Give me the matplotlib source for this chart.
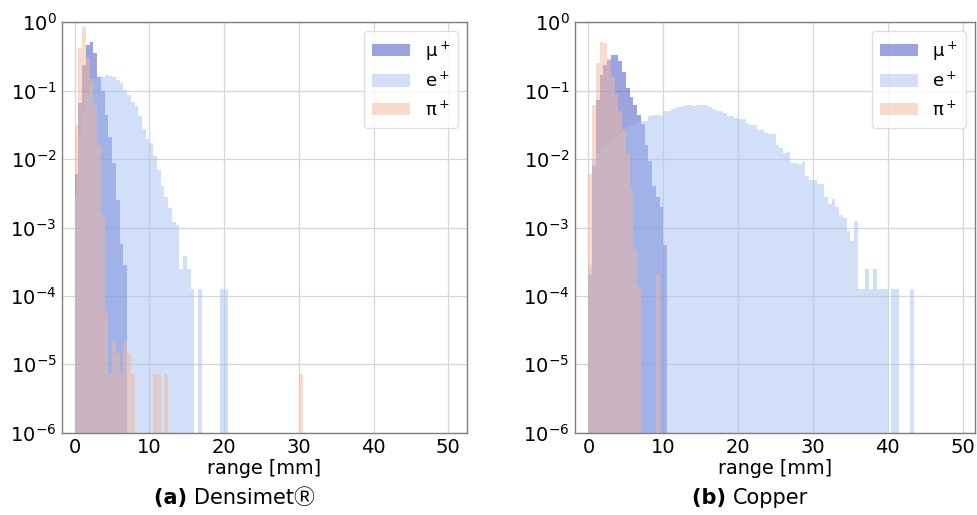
import numpy as np
import matplotlib
matplotlib.use("Agg")
import matplotlib.pyplot as plt

# ---------------- data (normalised counts per 0.5 mm bin, starting at 0 mm) ----------------
bin_edges = np.linspace(0, 50, 101)

# Densimet
mu_densimet = [0.006, 0.066, 0.24, 0.47, 0.52, 0.35, 0.16, 0.10, 0.044, 0.021,
               0.0087, 0.0025, 5.8e-4, 2.8e-4]
e_densimet = [0.003, 0.02, 0.05, 0.09, 0.13, 0.15, 0.155, 0.161, 0.170, 0.165,
              0.161, 0.144, 0.129, 0.103, 0.087, 0.069, 0.059, 0.042, 0.028, 0.020,
              0.017, 0.011, 0.0070, 0.0040, 0.0028, 0.0019, 0.0012, 0.0011, 2.5e-4, 3.8e-4,
              2.5e-4, 1.26e-4, 0.0, 1.26e-4, 0.0, 0.0, 0.0, 0.0, 0.0, 1.26e-4,
              1.26e-4]
pi_densimet = [0.032, 0.42, 0.86, 0.30, 0.15, 0.062, 0.016, 0.0016, 5.7e-5, 7.2e-6,
               2.2e-5, 1.45e-5, 7.2e-6, 2.2e-5, 1.45e-5, 7.2e-6, 0.0, 0.0, 0.0, 0.0,
               0.0, 7.2e-6, 7.2e-6, 0.0, 7.2e-6]
pi_densimet_tail = {60: 7.2e-6}

# Copper
mu_copper = [2e-4, 0.008, 0.073, 0.17, 0.24, 0.28, 0.33, 0.33, 0.27, 0.19,
             0.11, 0.082, 0.062, 0.044, 0.033, 0.016, 0.0093, 0.0040, 0.0028, 0.0020,
             5.6e-4]
e_copper = [2.8e-4, 0.010, 0.012, 0.014, 0.016, 0.018, 0.020, 0.022, 0.024, 0.027,
            0.029, 0.031, 0.033, 0.035, 0.036, 0.036, 0.042, 0.044, 0.044, 0.042,
            0.051, 0.051, 0.054, 0.056, 0.058, 0.060, 0.062, 0.062, 0.059, 0.062,
            0.062, 0.062, 0.058, 0.054, 0.051, 0.050, 0.047, 0.043, 0.043, 0.040,
            0.038, 0.038, 0.034, 0.031, 0.031, 0.027, 0.027, 0.024, 0.023, 0.023,
            0.016, 0.0145, 0.0122, 0.0125, 0.0087, 0.0087, 0.0085, 0.0091, 0.0056, 0.0049,
            0.0049, 0.0043, 0.0043, 0.0028, 0.0022, 0.0026, 0.0020, 0.0015, 0.0014, 8.8e-4,
            6.3e-4, 1.26e-3, 1.26e-4, 1.26e-4, 2.5e-4, 1.26e-4, 2.5e-4, 1.26e-4, 1.26e-4, 1.26e-4,
            0.0, 1.26e-4, 1.26e-4, 0.0, 0.0, 0.0, 1.26e-4]
pi_copper = [0.006, 0.061, 0.25, 0.51, 0.50, 0.30, 0.16, 0.09, 0.05, 0.028,
             0.012, 0.0035, 4.8e-4, 1.4e-4, 0.0, 0.0, 0.0, 0.0, 2.1e-4]

labels = ["μ$^+$", "e$^+$", "π$^+$"]
colors = ["#3b4bc1", "#a7c1f3", "#f5b79b"]
captions = [("(a)", "Densimet\u24C7"), ("(b)", "Copper")]
xticks = [0, 10, 20, 30, 40, 50]


def full(vals, tail=None):
    arr = np.zeros(len(bin_edges) - 1)
    arr[:len(vals)] = vals
    if tail:
        for k, v in tail.items():
            arr[k] = v
    return arr


panels = [
    [full(mu_densimet), full(e_densimet), full(pi_densimet, pi_densimet_tail)],
    [full(mu_copper), full(e_copper), full(pi_copper)],
]

plt.rcParams["font.family"] = ["DejaVu Sans", "Noto Sans CJK SC"]
fig = plt.figure(figsize=(9.77, 5.15), dpi=100)
ax_rects = [[0.0635, 0.1598, 0.4145, 0.7969], [0.5885, 0.1598, 0.4090, 0.7969]]
xlims = [(-1.7, 52.5), (-1.8, 51.6)]
cap_x = [0.199, 0.750]

centers = 0.5 * (bin_edges[:-1] + bin_edges[1:])
for i, series in enumerate(panels):
    ax = fig.add_axes(ax_rects[i])
    ax.set_yscale("log")
    for vals, lab, col in zip(series, labels, colors):
        ax.hist(centers, bins=bin_edges, weights=vals, histtype="stepfilled",
                color=col, alpha=0.5, linewidth=0, label=lab)
    ax.set_xlim(*xlims[i])
    ax.set_ylim(1e-6, 1)
    ax.set_xticks(xticks)
    ax.grid(True, which="major", color="#d6d6d6", linewidth=0.9)
    ax.set_axisbelow(True)
    for sp in ax.spines.values():
        sp.set_color("#7f7f7f")
        sp.set_linewidth(1.0)
    ax.tick_params(axis="both", which="major", labelsize=14, length=0, pad=4)
    ax.tick_params(axis="y", which="minor", length=0)
    ax.set_xlabel("range [mm]", fontsize=13.8, labelpad=1)
    ax.legend(loc="upper right", fontsize=13, framealpha=0.8,
              edgecolor="#d9d9d9", handlelength=2.1, borderpad=0.45)
    fig.text(cap_x[i], 0.033, captions[i][0] + " ", fontsize=15, fontweight="bold",
             ha="right", va="center")
    fig.text(cap_x[i], 0.033, captions[i][1], fontsize=15, ha="left", va="center")

fig.savefig("out.png", dpi=100)
